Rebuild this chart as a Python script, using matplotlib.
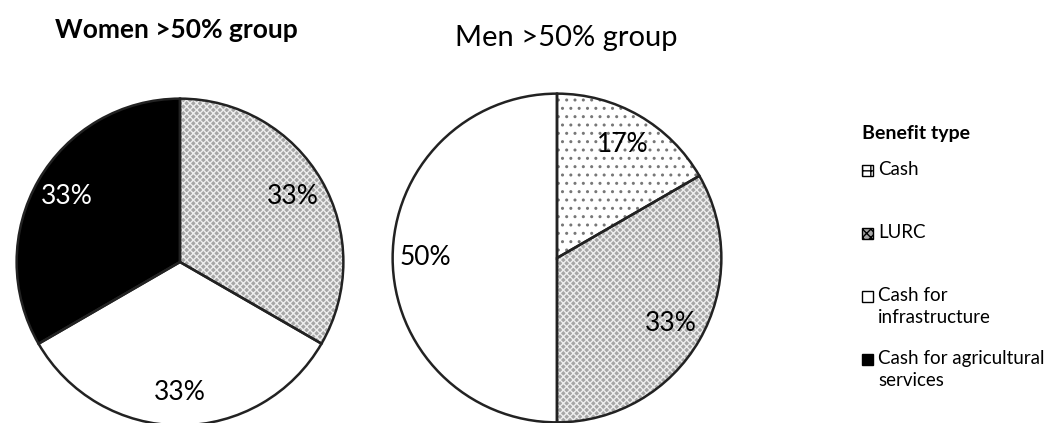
import matplotlib.pyplot as plt
from matplotlib.patches import Rectangle

plt.rcParams['font.family'] = ['Lato', 'DejaVu Sans']
plt.rcParams['hatch.linewidth'] = 1.0

# benefit types and shares per group
benefit_types = ['Cash', 'LURC', 'Cash for\ninfrastructure', 'Cash for agricultural\nservices']
women_share = [0, 33.33, 33.33, 33.34]
men_share = [16.67, 33.33, 50, 0]

face_colors = ['white', '#a6a6a6', 'white', 'black']
hatch_colors = ['#777777', '#eeeeee', 'white', 'black']
hatches = ['..', 'xxxxx', '', '']
legend_hatches = ['++', 'xxxx', '', '']
label_colors = ['black', 'black', 'black', 'white']

fig = plt.figure(figsize=(10.5, 4.23), dpi=100)
W, H = 1050, 423


def draw_pie(cx, cy, r, values, title, title_bold, title_xy, title_size):
    ax = fig.add_axes([(cx - r) / W, (H - cy - r) / H, 2 * r / W, 2 * r / H])
    keep = [i for i, v in enumerate(values) if v > 0]
    vals = [values[i] for i in keep]
    # fill + hatch layer
    wedges, texts, autotexts = ax.pie(
        vals, startangle=90, counterclock=False, autopct='%1.0f%%',
        pctdistance=0.8, radius=1,
        colors=[face_colors[i] for i in keep],
        wedgeprops=dict(linewidth=0),
        textprops=dict(fontsize=19))
    for w, i in zip(wedges, keep):
        w.set_hatch(hatches[i])
        w.set_edgecolor(hatch_colors[i])
    for t, i in zip(autotexts, keep):
        t.set_color(label_colors[i])
    # black outlines on top
    ax.pie(vals, startangle=90, counterclock=False, radius=1,
           colors=['none'] * len(vals),
           wedgeprops=dict(linewidth=1.8, edgecolor='#222222', fill=False))
    ax.set_xlim(-1.01, 1.01)
    ax.set_ylim(-1.01, 1.01)
    ax.set_aspect('equal')
    fig.text(title_xy[0] / W, 1 - title_xy[1] / H, title, ha='left', va='center',
             fontsize=title_size, fontweight='bold' if title_bold else 'normal')


draw_pie(180, 262, 165, women_share, 'Women >50% group', True, (55, 30), 19)
draw_pie(557, 258, 166, men_share, 'Men >50% group', False, (455, 38), 21)

# legend
fig.text(862 / W, 1 - 133 / H, 'Benefit type', fontsize=14, fontweight='bold',
         ha='left', va='center')
for i, lab in enumerate(benefit_types):
    y = 172 + i * 63
    box = Rectangle((862 / W, 1 - (y + 4) / H), 11 / W, 11 / H,
                    transform=fig.transFigure, facecolor=face_colors[i],
                    edgecolor='black', linewidth=1, hatch=legend_hatches[i])
    fig.patches.append(box)
    fig.text(878 / W, 1 - (y - 11) / H, lab, fontsize=13.5, ha='left', va='top',
             linespacing=1.35)

fig.savefig('out.png', dpi=100)
